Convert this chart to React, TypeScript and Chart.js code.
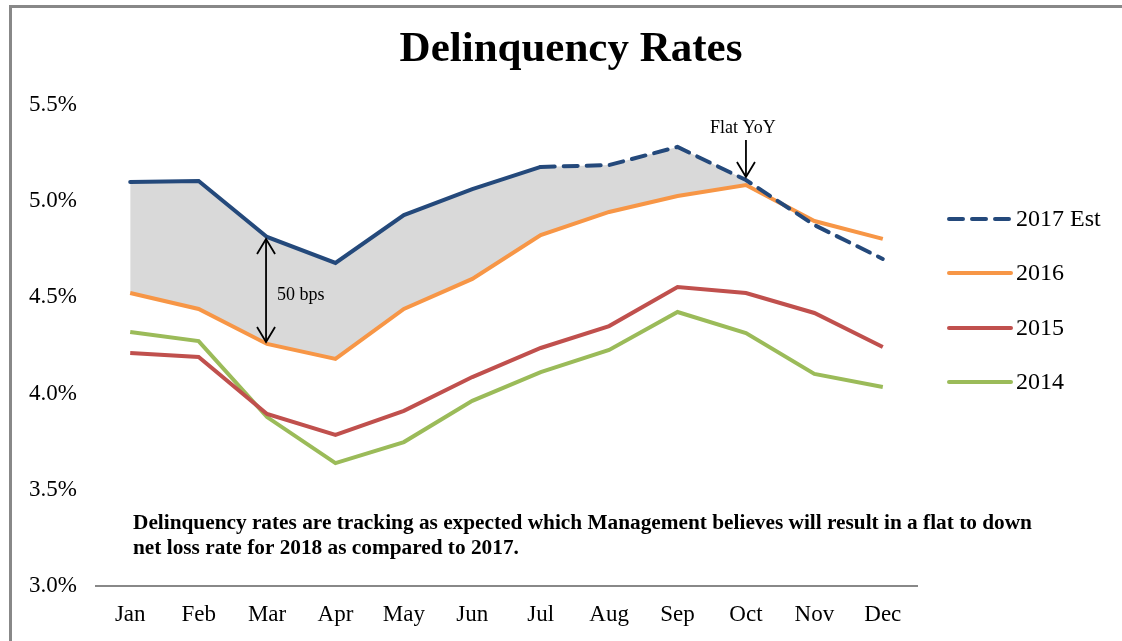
import React, { useEffect, useRef } from "react";
import { Chart, registerables } from "chart.js";

Chart.register(...registerables);

const months = ["Jan", "Feb", "Mar", "Apr", "May", "Jun", "Jul", "Aug", "Sep", "Oct", "Nov", "Dec"];
const est2017 = [5.1, 5.105, 4.814, 4.679, 4.928, 5.063, 5.178, 5.188, 5.282, 5.11, 4.876, 4.7];
const y2016 = [4.523, 4.44, 4.258, 4.18, 4.44, 4.596, 4.824, 4.944, 5.027, 5.084, 4.897, 4.804];
const y2015 = [4.211, 4.19, 3.894, 3.785, 3.91, 4.086, 4.237, 4.351, 4.554, 4.523, 4.419, 4.242];
const y2014 = [4.32, 4.273, 3.878, 3.639, 3.748, 3.962, 4.112, 4.227, 4.424, 4.315, 4.102, 4.034];
const gapFill = [5.1, 5.105, 4.814, 4.679, 4.928, 5.063, 5.178, 5.188, 5.282, 5.11, null, null];
const legendLabels = ["2017 Est", "2016", "2015", "2014"];
const seriesColors = ["#24497B", "#F79646", "#C0504D", "#9BBB59"];
const noteLines = [
  "Delinquency rates are tracking as expected which Management believes will result in a flat to down",
  "net loss rate for 2018 as compared to 2017.",
];
const SERIF = "'Liberation Serif', 'Times New Roman', serif";

function drawArrowHead(ctx: CanvasRenderingContext2D, x: number, y: number, dir: number) {
  ctx.beginPath();
  ctx.moveTo(x - 9, y - dir * 15);
  ctx.lineTo(x, y);
  ctx.lineTo(x + 9, y - dir * 15);
  ctx.stroke();
}

const decorPlugin = {
  id: "decor",
  beforeDraw(chart: any) {
    const ctx = chart.ctx;
    ctx.save();
    ctx.fillStyle = "#ffffff";
    ctx.fillRect(0, 0, chart.width, chart.height);
    ctx.fillStyle = "#888888";
    ctx.fillRect(9, 5, 3, chart.height - 5);
    ctx.fillRect(9, 5, chart.width - 9, 3);
    ctx.restore();
  },
  afterDraw(chart: any) {
    const ctx = chart.ctx;
    const xs = chart.scales.x;
    const ys = chart.scales.y;
    ctx.save();
    // title
    ctx.fillStyle = "#000";
    ctx.textAlign = "center";
    ctx.textBaseline = "alphabetic";
    ctx.font = `bold 43px ${SERIF}`;
    ctx.fillText("Delinquency Rates", 571, 61);

    // 50 bps double arrow at Mar
    const mx = xs.getPixelForValue(2) - 1;
    const yTop = ys.getPixelForValue(est2017[2]) + 2;
    const yBot = ys.getPixelForValue(y2016[2]) - 2;
    ctx.strokeStyle = "#000";
    ctx.lineWidth = 1.8;
    ctx.beginPath();
    ctx.moveTo(mx, yTop);
    ctx.lineTo(mx, yBot);
    ctx.stroke();
    drawArrowHead(ctx, mx, yTop, -1);
    drawArrowHead(ctx, mx, yBot, 1);
    ctx.textBaseline = "middle";
    ctx.font = `18px ${SERIF}`;
    ctx.textAlign = "left";
    ctx.fillText("50 bps", mx + 11, (yTop + yBot) / 2 + 5);

    // Flat YoY arrow at Oct
    const ox = xs.getPixelForValue(9);
    const oy = ys.getPixelForValue(est2017[9]) - 3;
    ctx.beginPath();
    ctx.moveTo(ox, 140);
    ctx.lineTo(ox, oy);
    ctx.stroke();
    drawArrowHead(ctx, ox, oy, 1);
    ctx.textAlign = "center";
    ctx.font = `18px ${SERIF}`;
    ctx.fillText("Flat YoY", ox - 3, 128);

    // note
    ctx.textAlign = "left";
    ctx.font = `bold 21.3px ${SERIF}`;
    noteLines.forEach((l, i) => ctx.fillText(l, 133, 523 + i * 25));

    // legend
    const ly = [219, 273, 328, 382];
    legendLabels.forEach((lab, i) => {
      ctx.strokeStyle = seriesColors[i];
      ctx.lineWidth = 4;
      ctx.lineCap = "round";
      ctx.setLineDash(i === 0 ? [14, 9] : []);
      ctx.beginPath();
      ctx.moveTo(949, ly[i]);
      ctx.lineTo(1011, ly[i]);
      ctx.stroke();
      ctx.setLineDash([]);
      ctx.fillStyle = "#000";
      ctx.textAlign = "left";
      ctx.font = `24px ${SERIF}`;
      ctx.fillText(lab, 1016, ly[i] + 1);
    });
    ctx.restore();
  },
};

export default function App() {
  const ref = useRef<HTMLCanvasElement | null>(null);
  useEffect(() => {
    document.body.style.margin = "0";
    if (!ref.current) return;
    const chart = new Chart(ref.current, {
      type: "line",
      data: {
        labels: months,
        datasets: [
          {
            label: legendLabels[0],
            data: est2017,
            borderColor: seriesColors[0],
            borderWidth: 4,
            pointRadius: 0,
            tension: 0,
            fill: false,
            borderCapStyle: "round",
            segment: {
              borderDash: (c: any) => (c.p0DataIndex >= 6 ? [14, 9] : undefined),
            },
          } as any,
          { label: legendLabels[1], data: y2016, borderColor: seriesColors[1], borderWidth: 4, pointRadius: 0, tension: 0, fill: false },
          { label: legendLabels[2], data: y2015, borderColor: seriesColors[2], borderWidth: 4, pointRadius: 0, tension: 0, fill: false },
          { label: legendLabels[3], data: y2014, borderColor: seriesColors[3], borderWidth: 4, pointRadius: 0, tension: 0, fill: false },
          {
            label: "gap",
            data: gapFill,
            borderWidth: 0,
            borderColor: "rgba(0,0,0,0)",
            backgroundColor: "#D9D9D9",
            pointRadius: 0,
            tension: 0,
            fill: 1,
            spanGaps: false,
          } as any,
        ],
      },
      options: {
        animation: false,
        responsive: false,
        layout: { padding: { left: 10, top: 105, right: 205, bottom: 0 } },
        plugins: {
          legend: { display: false },
          tooltip: { enabled: false },
          filler: { drawTime: "beforeDatasetsDraw" } as any,
        },
        scales: {
          x: {
            offset: true,
            grid: { display: false, drawTicks: false },
            border: { display: true, color: "#888888", width: 2 },
            ticks: { color: "#000", font: { family: SERIF, size: 23 }, padding: 15 },
            afterFit: (s: any) => {
              s.height = 55;
            },
          },
          y: {
            min: 3,
            max: 5.5,
            grid: { display: false, drawTicks: false },
            border: { display: false },
            ticks: {
              stepSize: 0.5,
              color: "#000",
              padding: 19,
              font: { family: SERIF, size: 23 },
              callback: (v: any) => Number(v).toFixed(1) + "%",
            },
            afterFit: (s: any) => {
              s.width = 86;
            },
          },
        },
      },
      plugins: [decorPlugin],
    });
    return () => chart.destroy();
  }, []);
  return (
    <div style={{ width: 1122, height: 641 }}>
      <canvas ref={ref} width={1122} height={641} style={{ display: "block" }} />
    </div>
  );
}
